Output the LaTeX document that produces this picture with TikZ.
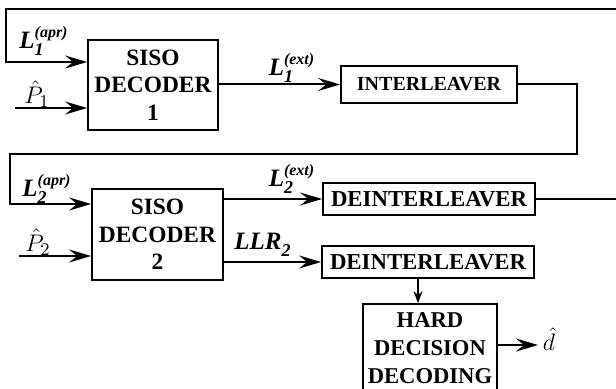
\documentclass[tikz,border=0pt]{standalone}
\usepackage{fontspec}
\setmainfont{Liberation Serif}
\usetikzlibrary{arrows.meta}
\newcommand\llrlab[3]{{\bfseries\itshape #1$_{\mbox{\bfseries\itshape\small #2}}^{\mbox{\bfseries\itshape\footnotesize #3}}$}}

\begin{document}
\begin{tikzpicture}[x=0.5pt, y=-0.5pt,
		blockbox/.style={draw, line width=0.9pt, inner sep=0pt, align=center, font=\bfseries\fontsize{11.7}{13.7}\selectfont},
		flow/.style={line width=1pt, -{Stealth[length=11pt, width=6.5pt, inset=4pt]}},
		wire/.style={line width=1pt},
		siglab/.style={font=\fontsize{12.5}{14}\selectfont, inner sep=0pt}]
		%%%%% START %%%%%
		
		\clip (0, 0) rectangle (616, 389);
		
		\node[blockbox, minimum width=65pt, minimum height=45pt] (dec1) at (153, 85) {SISO\\DECODER\\1};
		\node[blockbox, minimum width=88pt, minimum height=18.5pt, font=\bfseries\fontsize{10}{12}\selectfont] (intl) at (429, 84.5) {INTERLEAVER};
		
		\node[blockbox, minimum width=65.5pt, minimum height=45.5pt] (dec2) at (157.5, 234.5) {SISO\\DECODER\\2};
		\node[blockbox, minimum width=106pt, minimum height=16pt, font=\bfseries\fontsize{11.4}{13}\selectfont] (deint1) at (429, 199) {DEINTERLEAVER};
		\node[blockbox, minimum width=106pt, minimum height=16pt, font=\bfseries\fontsize{11.4}{13}\selectfont] (deint2) at (428, 262) {DEINTERLEAVER};
		\node[blockbox, minimum width=67pt, minimum height=44pt, font=\bfseries\fontsize{11.3}{14}\selectfont] (hdd) at (430, 348) {HARD\\DECISION\\DECODING};
		
		% inputs of decoder 1
		\coordinate (fbtop) at (616, 9);
		\coordinate (p1in) at (15, 108);
		\draw[flow] (fbtop) -- (6, 9) -- (6, 62) -- (dec1.west |- 0, 62);
		\draw[flow] (p1in) -- (dec1.west |- p1in);
		\node[siglab] (l1apr) at (44, 41) {\llrlab{L}{1}{(apr)}};
		\node[siglab] (p1hat) at (37, 94) {$\hat{P}_1$};
		
		% decoder 1 to interleaver
		\draw[flow] (dec1.east |- intl) -- (intl.west);
		\node[siglab] (l1ext) at (292, 68) {\llrlab{L}{1}{(ext)}};
		
		% interleaver to decoder 2
		\draw[flow] (intl.east) -- (577, 84.5) -- (577, 154) -- (10, 154) -- (10, 204) -- (dec2.west |- 0, 204);
		\coordinate (p2in) at (19, 256);
		\draw[flow] (p2in) -- (dec2.west |- p2in);
		\node[siglab] (l2apr) at (47, 189) {\llrlab{L}{2}{(apr)}};
		\node[siglab] (p2hat) at (38, 242) {$\hat{P}_2$};
		
		% outputs of decoder 2
		\draw[flow] (dec2.east |- deint1) -- (deint1.west);
		\node[siglab] (l2ext) at (292, 179) {\llrlab{L}{2}{(ext)}};
		\coordinate (fbout) at (616, 199);
		\draw[wire] (deint1.east) -- (fbout);
		
		\draw[flow] (dec2.east |- deint2) -- (deint2.west);
		\node[siglab] (llr2) at (263, 245) {\llrlab{LLR}{2}{}};
		
		% hard decision
		\coordinate (dn) at (418, 0);
		\draw[line width=0.8pt, -{Stealth[length=6pt, width=4.5pt, inset=2pt]}] (dn |- deint2.south) -- (dn |- hdd.north);
		\node[siglab, font=\fontsize{12.5}{14}\selectfont] (dhat) at (549, 339) {$\hat{d}$};
		\draw[flow] (hdd.east |- 0, 345) -- (538, 345);
		
		%%%%% END %%%%%
	\end{tikzpicture}
\end{document}
